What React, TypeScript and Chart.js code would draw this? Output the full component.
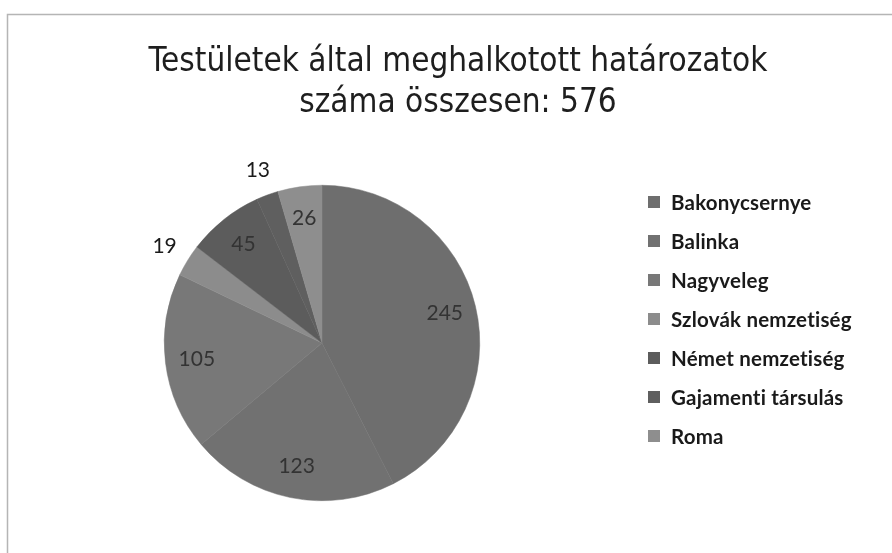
import { useEffect, useRef } from "react";
import { Chart, registerables } from "chart.js";

Chart.register(...registerables);

const TITLE_LINES = ["Testületek által meghalkotott határozatok", "száma összesen: 576"];
const CATEGORIES = [
  "Bakonycsernye",
  "Balinka",
  "Nagyveleg",
  "Szlovák nemzetiség",
  "Német nemzetiség",
  "Gajamenti társulás",
  "Roma",
];
const VALUES = [245, 123, 105, 19, 45, 13, 26];
const COLORS = ["#6e6e6e", "#717171", "#787878", "#8c8c8c", "#5c5c5c", "#5f5f5f", "#8e8e8e"];

const W = 892;
const H = 553;

const decorPlugin = {
  id: "decor",
  beforeDraw(chart: any) {
    const ctx = chart.ctx;
    ctx.save();
    ctx.fillStyle = "#ffffff";
    ctx.fillRect(0, 0, W, H);
    ctx.strokeStyle = "#b5b5b5";
    ctx.lineWidth = 1.5;
    ctx.beginPath();
    ctx.moveTo(7.5, H);
    ctx.lineTo(7.5, 14.5);
    ctx.lineTo(W, 14.5);
    ctx.stroke();
    ctx.restore();
  },
  afterDraw(chart: any) {
    const ctx = chart.ctx;
    ctx.save();
    // title
    ctx.fillStyle = "#1e1e1e";
    ctx.textAlign = "center";
    ctx.textBaseline = "middle";
    ctx.font = "33px 'Liberation Sans Narrow', 'DejaVu Sans Condensed', sans-serif";
    TITLE_LINES.forEach((t, i) => ctx.fillText(t, 458, 62 + i * 41));

    // legend
    ctx.textAlign = "left";
    ctx.font = "bold 20.5px Lato, 'Open Sans', sans-serif";
    try {
      (ctx as any).letterSpacing = "0.2px";
    } catch (e) {}
    const labels: string[] = chart.data.labels;
    const colors: string[] = chart.data.datasets[0].backgroundColor;
    labels.forEach((lab, i) => {
      const y = 202 + i * 39;
      ctx.fillStyle = colors[i];
      ctx.fillRect(648, y - 6, 12, 12);
      ctx.fillStyle = "#1a1a1a";
      ctx.fillText(lab, 671, y + 1);
    });
    try {
      (ctx as any).letterSpacing = "0px";
    } catch (e) {}

    // data labels
    const meta = chart.getDatasetMeta(0);
    const data: number[] = chart.data.datasets[0].data;
    ctx.textAlign = "center";
    ctx.font = "21px Lato, 'Open Sans', sans-serif";
    meta.data.forEach((arc: any, i: number) => {
      const p = arc.getProps(["x", "y", "startAngle", "endAngle", "outerRadius"], true);
      const mid = (p.startAngle + p.endAngle) / 2;
      const outside = data[i] < 20;
      const r = outside ? p.outerRadius + 27 : p.outerRadius * 0.8;
      const x = p.x + Math.cos(mid) * r;
      const y = p.y + Math.sin(mid) * r;
      ctx.fillStyle = outside ? "#1a1a1a" : "#333333";
      ctx.fillText(String(data[i]), x, y);
    });
    ctx.restore();
  },
};

export default function App() {
  const ref = useRef<HTMLCanvasElement | null>(null);
  useEffect(() => {
    if (!ref.current) return;
    const chart = new Chart(ref.current, {
      type: "pie",
      data: {
        labels: CATEGORIES,
        datasets: [
          {
            data: VALUES,
            backgroundColor: COLORS,
            borderColor: COLORS,
            borderWidth: 0.5,
          },
        ],
      },
      options: {
        responsive: false,
        animation: false,
        layout: { padding: { left: 164, right: W - 480, top: 185, bottom: H - 501 } },
        plugins: {
          legend: { display: false },
          title: { display: false },
          tooltip: { enabled: false },
        },
      },
      plugins: [decorPlugin],
    });
    return () => chart.destroy();
  }, []);
  return (
    <div style={{ position: "fixed", left: 0, top: 0, width: W, height: H, background: "#fff" }}>
      <canvas ref={ref} width={W} height={H} style={{ display: "block" }} />
    </div>
  );
}
